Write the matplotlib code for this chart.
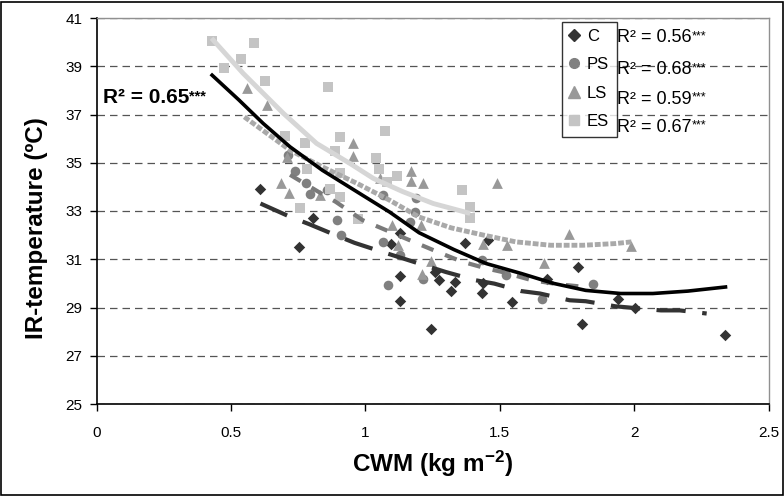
import matplotlib
matplotlib.use("Agg")
import matplotlib.pyplot as plt
from matplotlib.patches import Rectangle
from matplotlib.lines import Line2D

plt.rcParams['font.family'] = ['Liberation Sans', 'DejaVu Sans']
plt.rcParams['mathtext.default'] = 'regular'

# ---------------- data ----------------
c_x = [0.61, 0.754, 0.807, 1.094, 1.129, 1.129, 1.129, 1.243, 1.26, 1.275, 1.318, 1.334,
       1.371, 1.437, 1.433, 1.458, 1.545, 1.675, 1.793, 1.805, 1.941, 2.003, 2.338]
c_y = [33.93, 31.49, 32.69, 31.62, 32.10, 30.29, 29.27, 28.10, 30.47, 30.13, 29.70, 30.06,
       31.68, 30.02, 29.60, 31.79, 29.23, 30.20, 30.66, 28.33, 29.37, 28.98, 27.85]

ps_x = [0.714, 0.738, 0.78, 0.794, 0.856, 0.896, 0.908, 1.067, 1.067, 1.086, 1.129, 1.166,
        1.185, 1.19, 1.216, 1.433, 1.523, 1.656, 1.848]
ps_y = [35.32, 34.65, 34.15, 33.72, 33.86, 32.62, 32.00, 33.68, 31.72, 29.95, 31.17, 32.55,
        32.96, 33.52, 30.20, 30.96, 30.34, 29.37, 29.99]

ls_x = [0.559, 0.633, 0.686, 0.708, 0.716, 0.83, 0.955, 0.955, 1.055, 1.098, 1.12, 1.17,
        1.17, 1.207, 1.216, 1.21, 1.243, 1.439, 1.491, 1.528, 1.666, 1.758, 1.987]
ls_y = [38.10, 37.39, 34.18, 35.25, 33.75, 33.66, 35.80, 35.29, 34.35, 32.41, 31.60, 34.66,
        34.25, 32.40, 34.17, 30.40, 30.92, 31.65, 34.14, 31.58, 30.85, 32.04, 31.54]

es_x = [0.428, 0.476, 0.538, 0.587, 0.627, 0.70, 0.758, 0.776, 0.783, 0.862, 0.87, 0.887,
        0.906, 0.906, 0.906, 0.972, 1.04, 1.05, 1.073, 1.08, 1.117, 1.358, 1.39, 1.39]
es_y = [40.06, 38.94, 39.30, 39.95, 38.40, 36.10, 33.13, 35.80, 34.73, 38.12, 33.93, 35.50,
        36.08, 34.58, 33.59, 32.65, 35.18, 34.73, 36.32, 34.20, 34.46, 33.86, 33.17, 32.69]

# trend lines
all_tx = [0.43, 0.53, 0.62, 0.72, 0.84, 0.97, 1.09, 1.20, 1.33, 1.45, 1.58, 1.70, 1.82,
          1.95, 2.07, 2.20, 2.34]
all_ty = [38.63, 37.60, 36.63, 35.66, 34.69, 33.79, 32.96, 32.10, 31.40, 30.82, 30.41, 30.00,
          29.71, 29.58, 29.58, 29.68, 29.85]

c_tx = [0.61, 0.72, 0.79, 0.90, 0.96, 1.07, 1.13, 1.24, 1.30, 1.41, 1.48, 1.58, 1.65, 1.76,
        1.82, 1.93, 2.00, 2.10, 2.17, 2.27]
c_ty = [33.31, 32.76, 32.46, 31.95, 31.68, 31.28, 31.07, 30.68, 30.47, 30.13, 29.99, 29.68,
        29.58, 29.30, 29.26, 29.05, 28.98, 28.88, 28.88, 28.75]

ps_tx = [0.72, 0.84, 0.89, 0.99, 1.15, 1.27, 1.36, 1.45, 1.51, 1.62, 1.72, 1.82]
ps_ty = [34.50, 33.70, 33.38, 32.62, 31.86, 31.30, 30.90, 30.62, 30.47, 30.13, 29.96, 29.85]

ls_tx = [0.55, 0.72, 0.84, 0.97, 1.09, 1.20, 1.32, 1.44, 1.56, 1.69, 1.81, 1.93, 1.99]
ls_ty = [36.90, 35.52, 34.83, 34.14, 33.45, 32.75, 32.30, 32.00, 31.72, 31.58, 31.58, 31.65, 31.72]

es_tx = [0.428, 0.546, 0.695, 0.819, 0.943, 1.03, 1.14, 1.253, 1.39]
es_ty = [40.16, 38.70, 37.05, 35.80, 34.97, 34.35, 33.80, 33.31, 32.90]

groups = ['C', 'PS', 'LS', 'ES']
r2_groups = ['0.56', '0.68', '0.59', '0.67']
r2_all = '0.65'

x_ticks = [0, 0.5, 1, 1.5, 2, 2.5]
x_ticklabels = ['0', '0.5', '1', '1.5', '2', '2.5']
y_ticks = [25, 27, 29, 31, 33, 35, 37, 39, 41]

# ---------------- figure ----------------
W, H = 784, 496
fig = plt.figure(figsize=(W / 100, H / 100), dpi=100)
ax = fig.add_axes([96.5 / W, 1 - 404 / H, (768.5 - 96.5) / W, (404 - 18) / H])

col_c, col_ps, col_ls, col_es = '#333333', '#808080', '#999999', '#c4c4c4'

ax.scatter(c_x, c_y, marker='D', s=34, color=col_c, lw=0, zorder=3)
ax.scatter(ps_x, ps_y, marker='o', s=48, color=col_ps, lw=0, zorder=3)
ax.scatter(ls_x, ls_y, marker='^', s=60, color=col_ls, lw=0, zorder=3)
ax.scatter(es_x, es_y, marker='s', s=42, color=col_es, lw=0, zorder=3)

ax.plot(es_tx, es_ty, color='#d6d6d6', lw=3.5, zorder=4, solid_capstyle='butt')
ax.plot(ls_tx, ls_ty, color='#a9a9a9', lw=3.5, zorder=4, linestyle=(0, (1.2, 0.4)))
ax.plot(ps_tx, ps_ty, color='#7a7a7a', lw=3, zorder=4, linestyle=(0, (3, 3)))
ax.plot(c_tx, c_ty, color='#333333', lw=3, zorder=4, linestyle=(0, (7, 4)))
ax.plot(all_tx, all_ty, color='black', lw=2.6, zorder=5)

ax.set_xlim(0, 2.5)
ax.set_ylim(25, 41)
ax.set_xticks(x_ticks)
ax.set_xticklabels(x_ticklabels)
ax.set_yticks(y_ticks)
ax.tick_params(axis='both', direction='out', length=5, width=1, labelsize=11, color='black')
ax.tick_params(axis='y', pad=5)
ax.tick_params(axis='x', pad=11)
ax.yaxis.grid(True, linestyle=(0, (6, 4)), color='#555555', lw=0.9)
ax.set_axisbelow(True)
for s in ['top', 'right']:
    ax.spines[s].set_color('#909090')
    ax.spines[s].set_linewidth(1)
for s in ['left', 'bottom']:
    ax.spines[s].set_color('black')
    ax.spines[s].set_linewidth(1.2)

ax.set_xlabel('CWM (kg m$^{-2}$)', fontsize=17.5, fontweight='bold', labelpad=6)
ax.set_ylabel('IR-temperature (ºC)', fontsize=17.5, fontweight='bold')
ax.yaxis.set_label_coords(-48 / 672, 0.455)

# legend
handles = [
    Line2D([], [], marker='D', color=col_c, ls='none', markersize=6),
    Line2D([], [], marker='o', color=col_ps, ls='none', markersize=7),
    Line2D([], [], marker='^', color=col_ls, ls='none', markersize=8),
    Line2D([], [], marker='s', color=col_es, ls='none', markersize=6.5),
]
leg = ax.legend(handles, groups, loc='upper left', bbox_to_anchor=(562 / W, 1 - 21.5 / H),
                bbox_transform=fig.transFigure, frameon=True, fancybox=False, shadow=False,
                fontsize=12, handlelength=0.55, handletextpad=0.5, labelspacing=0.8,
                borderpad=0.45, borderaxespad=0, markerscale=1)
leg.get_frame().set_edgecolor('black')
leg.get_frame().set_linewidth(1)
leg.set_zorder(6)

ys = [38, 70, 99, 127]
for yy, r in zip(ys, r2_groups):
    t = fig.text(617 / W, 1 - yy / H, 'R² = ' + r, fontsize=13, va='center', ha='left')
    ax.annotate('***', xy=(1, 0.95), xycoords=t, va='top', ha='left', fontsize=9)

t = fig.text(103 / W, 1 - 98 / H, 'R² = ' + r2_all, fontsize=15, fontweight='bold',
             va='center', ha='left')
ax.annotate('***', xy=(1, 0.95), xycoords=t, va='top', ha='left', fontsize=10.5, fontweight='bold')

# outer border
fig.patches.append(Rectangle((1 / W, 1 / H), (W - 2.5) / W, (H - 2.5) / H, transform=fig.transFigure,
                             fill=False, edgecolor='black', lw=1.2))

fig.savefig('out.png', dpi=100)
